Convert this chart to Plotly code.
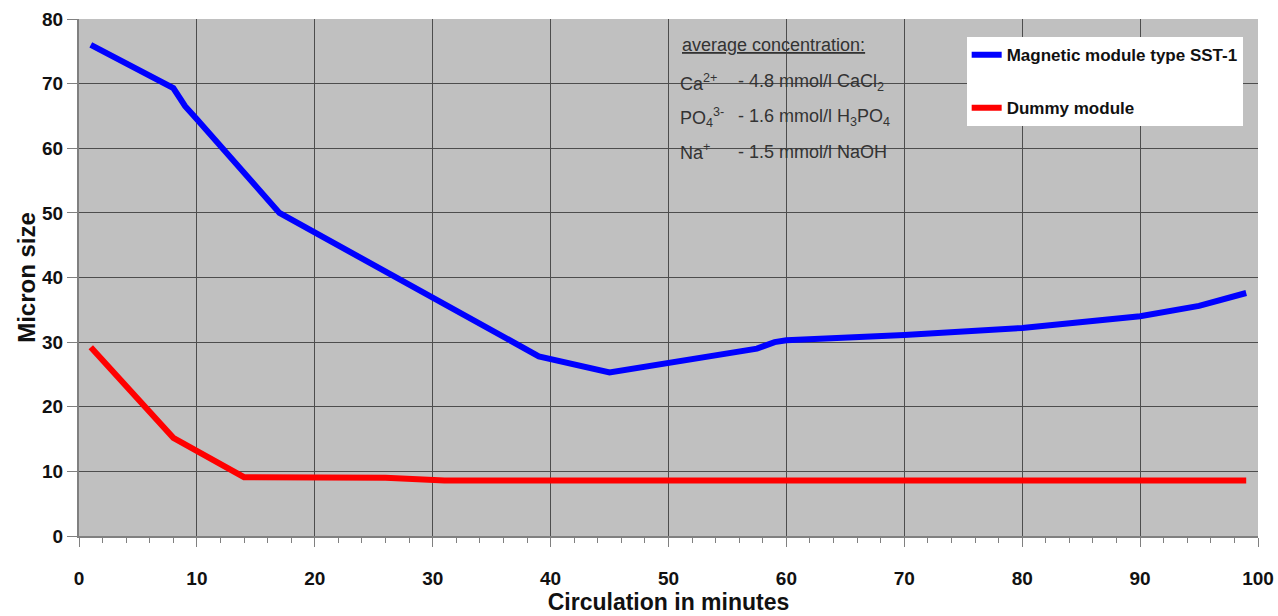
import plotly.graph_objects as go

# Data
magnetic_x = [1, 8, 9, 10, 17, 30, 39, 45, 57.5, 59, 60, 70, 80, 90, 95, 99]
magnetic_y = [76, 69.3, 66.5, 64.5, 50, 37, 27.8, 25.3, 29, 30, 30.3, 31.1, 32.2, 34, 35.6, 37.6]

dummy_x = [1, 8, 14, 26, 31, 99]
dummy_y = [29.2, 15.2, 9.1, 9.0, 8.6, 8.6]

series_names = ["Magnetic module type SST-1", "Dummy module"]
x_title = "Circulation in minutes"
y_title = "Micron size"

note_title = "<u>average concentration:</u>"
note_ions = ["Ca<sup>2+</sup>", "PO<sub>4</sub><sup>3-</sup>", "Na<sup>+</sup>"]
note_values = ["- 4.8 mmol/l CaCl<sub>2</sub>", "- 1.6 mmol/l H<sub>3</sub>PO<sub>4</sub>", "- 1.5 mmol/l NaOH"]

FONT = "Liberation Sans, Arial, sans-serif"
NOTE_FONT = dict(family=FONT, size=18, color="#333333")

fig = go.Figure()
fig.add_trace(go.Scatter(x=magnetic_x, y=magnetic_y, mode="lines", name=series_names[0],
                         legendgroup="a",
                         line=dict(color="#0000ff", width=6)))
fig.add_trace(go.Scatter(x=dummy_x, y=dummy_y, mode="lines", name=series_names[1],
                         legendgroup="b",
                         line=dict(color="#ff0000", width=6)))

annotations = [dict(text=note_title, x=0.510, y=0.950, xref="paper", yref="paper",
                    xanchor="left", yanchor="middle", showarrow=False, font=NOTE_FONT)]
ion_y = [0.878, 0.810, 0.743]
for ion, val, yy in zip(note_ions, note_values, ion_y):
    annotations.append(dict(text=ion, x=0.508, y=yy, xref="paper", yref="paper",
                            xanchor="left", yanchor="middle", showarrow=False, font=NOTE_FONT))
    annotations.append(dict(text=val, x=0.557, y=yy, xref="paper", yref="paper",
                            xanchor="left", yanchor="middle", showarrow=False, font=NOTE_FONT))

fig.update_layout(
    width=1278, height=616,
    margin=dict(l=79, r=20, t=19, b=80, autoexpand=False),
    paper_bgcolor="white",
    plot_bgcolor="#c0c0c0",
    font=dict(family=FONT, color="#111111"),
    showlegend=True,
    legend=dict(x=0.987, y=0.965, xanchor="right", yanchor="top",
                bgcolor="white", borderwidth=0,
                tracegroupgap=28,
                font=dict(family=FONT, size=17, color="#111111", weight="bold"),
                itemwidth=30),
    annotations=annotations,
    xaxis=dict(range=[0, 100], dtick=10, tick0=0, automargin=False,
               showgrid=True, gridcolor="#4d4d4d", gridwidth=1,
               showline=True, linecolor="#808080", linewidth=2,
               ticks="outside", ticklen=9, tickcolor="#808080", tickwidth=1,
               minor=dict(dtick=2, ticks="outside", ticklen=5, tickcolor="#808080", showgrid=False),
               ticklabelstandoff=15,
               tickfont=dict(family=FONT, size=19, color="#111111", weight="bold"),
               title=dict(text=x_title, standoff=2,
                          font=dict(family=FONT, size=23, color="#111111", weight="bold")),
               zeroline=False),
    yaxis=dict(range=[0, 80], dtick=10, tick0=0, automargin=False,
               showgrid=True, gridcolor="#4d4d4d", gridwidth=1,
               showline=True, linecolor="#808080", linewidth=2,
               ticks="outside", ticklen=10, tickcolor="#808080", tickwidth=1,
               ticklabelstandoff=0,
               tickfont=dict(family=FONT, size=19, color="#111111", weight="bold"),
               title=dict(text=y_title, standoff=0,
                          font=dict(family=FONT, size=24, color="#111111", weight="bold")),
               zeroline=False),
)

fig.write_html("out.html", config={"displayModeBar": False},
               post_script="document.body.style.margin='0';document.body.style.overflow='hidden';")
